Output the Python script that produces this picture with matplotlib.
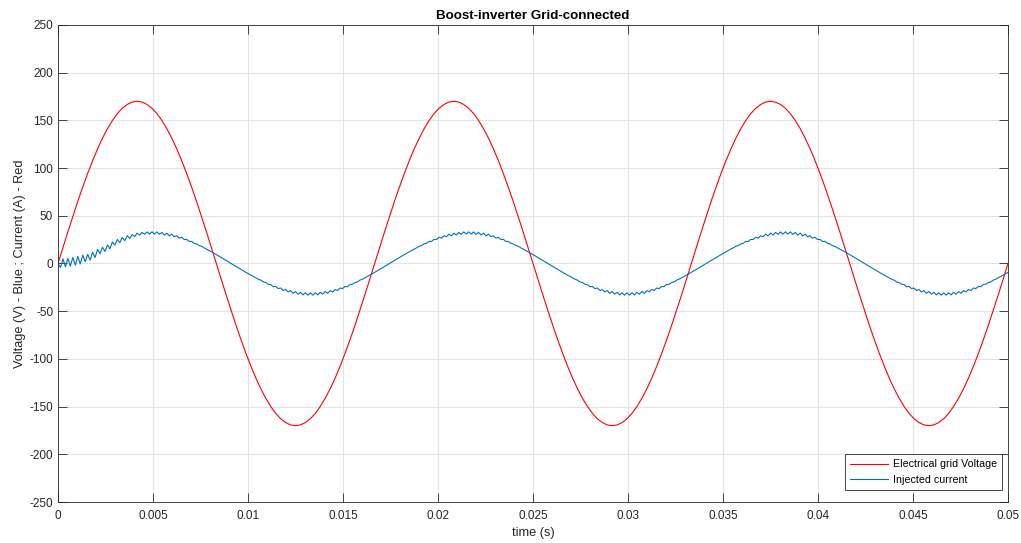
import numpy as np
import matplotlib
matplotlib.use('Agg')
import matplotlib.pyplot as plt

# grid voltage (V), 193 samples over 0..0.05 s
voltage = [0, 16.7, 33.2, 49.3, 65.1, 80.1, 94.4, 107.8, 120.2, 131.4, 141.3, 149.9, 157.1, 162.7, 166.7, 169.2,
           170, 169.2, 166.7, 162.7, 157.1, 149.9, 141.3, 131.4, 120.2, 107.8, 94.4, 80.1, 65.1, 49.3, 33.2, 16.7,
           0, -16.7, -33.2, -49.3, -65.1, -80.1, -94.4, -107.8, -120.2, -131.4, -141.3, -149.9, -157.1, -162.7, -166.7, -169.2,
           -170, -169.2, -166.7, -162.7, -157.1, -149.9, -141.3, -131.4, -120.2, -107.8, -94.4, -80.1, -65.1, -49.3, -33.2, -16.7,
           0, 16.7, 33.2, 49.3, 65.1, 80.1, 94.4, 107.8, 120.2, 131.4, 141.3, 149.9, 157.1, 162.7, 166.7, 169.2,
           170, 169.2, 166.7, 162.7, 157.1, 149.9, 141.3, 131.4, 120.2, 107.8, 94.4, 80.1, 65.1, 49.3, 33.2, 16.7,
           0, -16.7, -33.2, -49.3, -65.1, -80.1, -94.4, -107.8, -120.2, -131.4, -141.3, -149.9, -157.1, -162.7, -166.7, -169.2,
           -170, -169.2, -166.7, -162.7, -157.1, -149.9, -141.3, -131.4, -120.2, -107.8, -94.4, -80.1, -65.1, -49.3, -33.2, -16.7,
           0, 16.7, 33.2, 49.3, 65.1, 80.1, 94.4, 107.8, 120.2, 131.4, 141.3, 149.9, 157.1, 162.7, 166.7, 169.2,
           170, 169.2, 166.7, 162.7, 157.1, 149.9, 141.3, 131.4, 120.2, 107.8, 94.4, 80.1, 65.1, 49.3, 33.2, 16.7,
           0, -16.7, -33.2, -49.3, -65.1, -80.1, -94.4, -107.8, -120.2, -131.4, -141.3, -149.9, -157.1, -162.7, -166.7, -169.2,
           -170, -169.2, -166.7, -162.7, -157.1, -149.9, -141.3, -131.4, -120.2, -107.8, -94.4, -80.1, -65.1, -49.3, -33.2, -16.7,
           0]

# injected current (A), 385 samples over 0..0.05 s (start-up ripple, then switching ripple at the crests)
current = [0, -4.1, 4.8, -3.5, 5.4, -2.8, 6.3, -1.8, 7.4, -0.5, 8.8, 1.8, 9.6, 3.5, 11.9, 6.3,
           14.9, 10.2, 17.0, 12.6, 19.4, 15.4, 22.6, 19.2, 25.2, 21.9, 27.3, 23.9, 29.2, 26.3, 30.3, 28.3,
           # period 1
           31.8, 29.8, 32.6, 30.5, 33.1, 30.8, 33.2, 30.8, 33.1, 30.5, 32.6, 29.8, 31.8, 28.9,
           30.8, 28.0, 29.1, 26.5, 27.5, 25.1, 25.3, 23.1, 23.2, 21.2, 20.6, 18.8, 18.1,
           16.5, 15.1, 13.7, 12.2, 10.8, 9.3, 7.8, 6.2, 4.7, 3.1, 1.6, 0,
           -1.6, -3.1, -4.7, -6.2, -7.8, -9.3, -10.8, -12.2, -13.7, -15.1, -16.5,
           -17.5, -19.4, -20.0, -21.8, -22.0, -24.3, -24.1, -26.3, -25.7, -28.3, -27.3, -29.8, -28.4,
           -31.3, -29.4, -32.2, -30.2, -32.9, -30.7, -33.2, -30.8, -33.2, -30.7, -32.9, -30.2, -32.2, -29.4, -31.3, -28.4,
           -29.8, -27.3, -28.3, -25.7, -26.3, -24.1, -24.3, -22.0, -21.8, -20.0, -19.4, -17.5,
           -16.5, -15.1, -13.7, -12.2, -10.8, -9.3, -7.8, -6.2, -4.7, -3.1, -1.6,
           0, 1.6, 3.1, 4.7, 6.2, 7.8, 9.3, 10.8, 12.2, 13.7, 15.1, 16.5,
           18.1, 18.8, 20.6, 21.2, 23.2, 23.1, 25.3, 25.1, 27.5, 26.5, 29.1, 28.0, 30.8, 28.9,
           # period 2
           31.8, 29.8, 32.6, 30.5, 33.1, 30.8, 33.2, 30.8, 33.1, 30.5, 32.6, 29.8, 31.8, 28.9,
           30.8, 28.0, 29.1, 26.5, 27.5, 25.1, 25.3, 23.1, 23.2, 21.2, 20.6, 18.8, 18.1,
           16.5, 15.1, 13.7, 12.2, 10.8, 9.3, 7.8, 6.2, 4.7, 3.1, 1.6, 0,
           -1.6, -3.1, -4.7, -6.2, -7.8, -9.3, -10.8, -12.2, -13.7, -15.1, -16.5,
           -17.5, -19.4, -20.0, -21.8, -22.0, -24.3, -24.1, -26.3, -25.7, -28.3, -27.3, -29.8, -28.4,
           -31.3, -29.4, -32.2, -30.2, -32.9, -30.7, -33.2, -30.8, -33.2, -30.7, -32.9, -30.2, -32.2, -29.4, -31.3, -28.4,
           -29.8, -27.3, -28.3, -25.7, -26.3, -24.1, -24.3, -22.0, -21.8, -20.0, -19.4, -17.5,
           -16.5, -15.1, -13.7, -12.2, -10.8, -9.3, -7.8, -6.2, -4.7, -3.1, -1.6,
           0, 1.6, 3.1, 4.7, 6.2, 7.8, 9.3, 10.8, 12.2, 13.7, 15.1, 16.5,
           18.1, 18.8, 20.6, 21.2, 23.2, 23.1, 25.3, 25.1, 27.5, 26.5, 29.1, 28.0, 30.8, 28.9,
           # period 3
           31.8, 29.8, 32.6, 30.5, 33.1, 30.8, 33.2, 30.8, 33.1, 30.5, 32.6, 29.8, 31.8, 28.9,
           30.8, 28.0, 29.1, 26.5, 27.5, 25.1, 25.3, 23.1, 23.2, 21.2, 20.6, 18.8, 18.1,
           16.5, 15.1, 13.7, 12.2, 10.8, 9.3, 7.8, 6.2, 4.7, 3.1, 1.6, 0,
           -1.6, -3.1, -4.7, -6.2, -7.8, -9.3, -10.8, -12.2, -13.7, -15.1, -16.5,
           -17.5, -19.4, -20.0, -21.8, -22.0, -24.3, -24.1, -26.3, -25.7, -28.3, -27.3, -29.8, -28.4,
           -31.3, -29.4, -32.2, -30.2, -32.9, -30.7, -33.2, -30.8, -33.2, -30.7, -32.9, -30.2, -32.2, -29.4, -31.3, -28.4,
           -29.8, -27.3, -28.3, -25.7, -26.3, -24.1, -24.3, -22.0, -21.8, -20.0, -19.4, -17.5,
           -16.5, -15.1, -13.7, -12.2, -10.8, -9.3]

t_v = np.linspace(0, 0.05, len(voltage))
t_i = np.linspace(0, 0.05, len(current))

x_ticks = [0, 0.005, 0.01, 0.015, 0.02, 0.025, 0.03, 0.035, 0.04, 0.045, 0.05]
x_labels = ['0', '0.005', '0.01', '0.015', '0.02', '0.025', '0.03', '0.035', '0.04', '0.045', '0.05']
y_ticks = list(range(-250, 251, 50))

plt.rcParams['font.family'] = ['Liberation Sans', 'DejaVu Sans']
plt.rcParams['axes.unicode_minus'] = False
edge = '#262626'

fig = plt.figure(figsize=(10.21, 5.43), dpi=100)
ax = fig.add_axes([0.0568, 0.0755, 0.9305, 0.8785])

ax.plot(t_v, voltage, color='#ff0000', lw=0.8, label='Electrical grid Voltage')
ax.plot(t_i, current, color='#0072bd', lw=0.8, label='Injected current')

ax.set_xlim(0, 0.05)
ax.set_ylim(-250, 250)
ax.set_xticks(x_ticks)
ax.set_xticklabels(x_labels)
ax.set_yticks(y_ticks)
ax.grid(True, color='#e3e3e3', lw=0.8)
ax.set_axisbelow(True)

ax.tick_params(direction='in', length=6.8, width=0.6, colors=edge, labelsize=8.5,
               top=True, right=True)
ax.tick_params(axis='x', pad=5.5)
ax.tick_params(axis='y', pad=3.5)
for s in ax.spines.values():
    s.set_color(edge)
    s.set_linewidth(0.6)

ax.set_title('Boost-inverter Grid-connected', fontsize=9.6, fontweight='bold', pad=4)
ax.set_xlabel('time (s)', fontsize=9.2, color=edge, labelpad=3.5)
ax.set_ylabel('Voltage (V) - Blue ; Current (A) - Red', fontsize=9.2, color=edge, labelpad=2.5)

leg = ax.legend(loc='lower right', bbox_to_anchor=(0.9937, 0.0252), borderaxespad=0,
                fontsize=7.7, fancybox=False, framealpha=1, edgecolor=edge,
                handlelength=3.55, handletextpad=0.47, borderpad=0.45, labelspacing=0.55)
leg.get_frame().set_linewidth(0.6)

fig.savefig('out.png', dpi=100)
